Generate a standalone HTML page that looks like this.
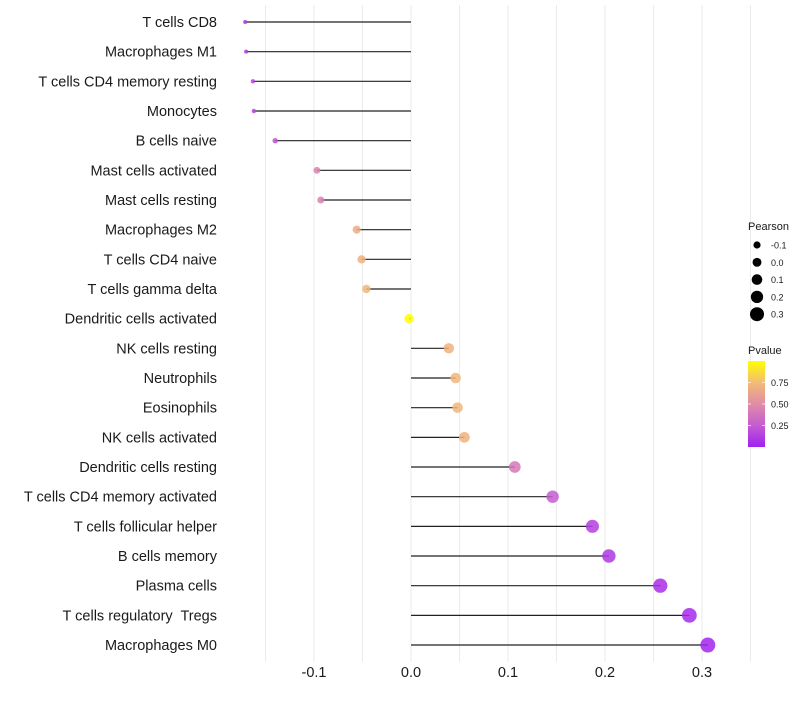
<!DOCTYPE html>
<html><head><meta charset="utf-8"><style>
body{margin:0;background:#fff;width:800px;height:700px;overflow:hidden;font-family:"Liberation Sans",sans-serif}
text{white-space:pre}
</style></head><body>
<svg id="chart" width="800" height="700" xmlns="http://www.w3.org/2000/svg">
<defs><linearGradient id="pg" x1="0" y1="1" x2="0" y2="0">
<stop offset="0" stop-color="#a020f0"/><stop offset="0.25" stop-color="#c45cd0"/><stop offset="0.5" stop-color="#e08ca8"/><stop offset="0.75" stop-color="#f2bc74"/><stop offset="1" stop-color="#ffff00"/>
</linearGradient></defs>
<g id="grid"></g><g id="marks"></g><g id="ylab"></g><g id="xlab"></g><g id="legend"></g>
</svg>
<script>
const categories=["T cells CD8","Macrophages M1","T cells CD4 memory resting","Monocytes","B cells naive","Mast cells activated","Mast cells resting","Macrophages M2","T cells CD4 naive","T cells gamma delta","Dendritic cells activated","NK cells resting","Neutrophils","Eosinophils","NK cells activated","Dendritic cells resting","T cells CD4 memory activated","T cells follicular helper","B cells memory","Plasma cells","T cells regulatory  Tregs","Macrophages M0"];
const pearson=[-0.171,-0.170,-0.163,-0.162,-0.140,-0.097,-0.093,-0.056,-0.051,-0.046,-0.002,0.039,0.046,0.048,0.055,0.107,0.146,0.187,0.204,0.257,0.287,0.306];
const pvalue=[0.10,0.10,0.15,0.15,0.20,0.45,0.45,0.66,0.70,0.72,1.0,0.70,0.72,0.72,0.70,0.40,0.25,0.13,0.10,0.06,0.04,0.02];
const xTicks=[-0.1,0.0,0.1,0.2,0.3];
const xTickLabels=["-0.1","0.0","0.1","0.2","0.3"];
const sizeLegend=[-0.1,0.0,0.1,0.2,0.3];
const pTicks=[0.25,0.5,0.75];
const NS="http://www.w3.org/2000/svg";
const X=v=>411+v*970;
const Y=i=>22+i*29.667;
const R=v=>Math.sqrt(Math.max(1,4+110*(v+0.17)));
function lerp(a,b,t){return Math.round(a+(b-a)*t)}
const stops=[[0,[160,32,240]],[0.25,[196,92,208]],[0.5,[224,140,168]],[0.75,[242,188,116]],[1,[255,255,0]]];
function col(p){for(let i=0;i<stops.length-1;i++){const[a,c1]=stops[i],[b,c2]=stops[i+1];if(p<=b){const t=(p-a)/(b-a);return`rgb(${lerp(c1[0],c2[0],t)},${lerp(c1[1],c2[1],t)},${lerp(c1[2],c2[2],t)})`}}return"rgb(255,255,0)"}
function mk(tag,attrs,parent){const e=document.createElementNS(NS,tag);for(const k in attrs)e.setAttribute(k,attrs[k]);parent.appendChild(e);return e}
const grid=document.getElementById('grid'),marks=document.getElementById('marks'),ylab=document.getElementById('ylab'),xlab=document.getElementById('xlab'),leg=document.getElementById('legend');
for(let v=-0.15;v<=0.36;v+=0.05){const l=mk('line',{x1:X(v),x2:X(v),y1:5,y2:662,stroke:'#ebebeb','stroke-width':1},grid);}
categories.forEach((c,i)=>{
 const y=Y(i),v=pearson[i];
 const ln=mk('line',{x1:X(0),x2:X(v),y1:y,y2:y,stroke:'#222','stroke-width':1.2},marks);
 
 
 const pt=mk('circle',{cx:X(v),cy:y,r:R(v),fill:col(pvalue[i]),'fill-opacity':0.85},marks);
 
 
 const t=mk('text',{x:217,y:y+5,'text-anchor':'end','font-size':14.5,fill:'#1a1a1a'},ylab);t.textContent=c;
 
 
});
xTicks.forEach((v,i)=>{const t=mk('text',{x:X(v),y:677,'text-anchor':'middle','font-size':14.5,fill:'#1a1a1a'},xlab);t.textContent=xTickLabels[i];
 
 });
let tt=mk('text',{x:748,y:230,'font-size':11,fill:'#1a1a1a'},leg);tt.textContent='Pearson';


sizeLegend.forEach((v,i)=>{const y=245+i*17.3;const c=mk('circle',{cx:757,cy:y,r:3.6+(v+0.1)*8.5,fill:'#000'},leg);
 
 
 const t=mk('text',{x:771,y:y+3.5,'font-size':9,fill:'#1a1a1a'},leg);t.textContent=v.toFixed(1);
 
 });
tt=mk('text',{x:748,y:354,'font-size':11,fill:'#1a1a1a'},leg);tt.textContent='Pvalue';


const bar=mk('rect',{x:748,y:361,width:17,height:86,fill:'url(#pg)'},leg);


pTicks.forEach(p=>{const y=447-p*86;mk('line',{x1:748,x2:751,y1:y,y2:y,stroke:'#fff','stroke-opacity':0.7},leg);mk('line',{x1:762,x2:765,y1:y,y2:y,stroke:'#fff','stroke-opacity':0.7},leg);
 const t=mk('text',{x:771,y:y+3.5,'font-size':9,fill:'#1a1a1a'},leg);t.textContent=p.toFixed(2);
 
 });
</script>
</body></html>
